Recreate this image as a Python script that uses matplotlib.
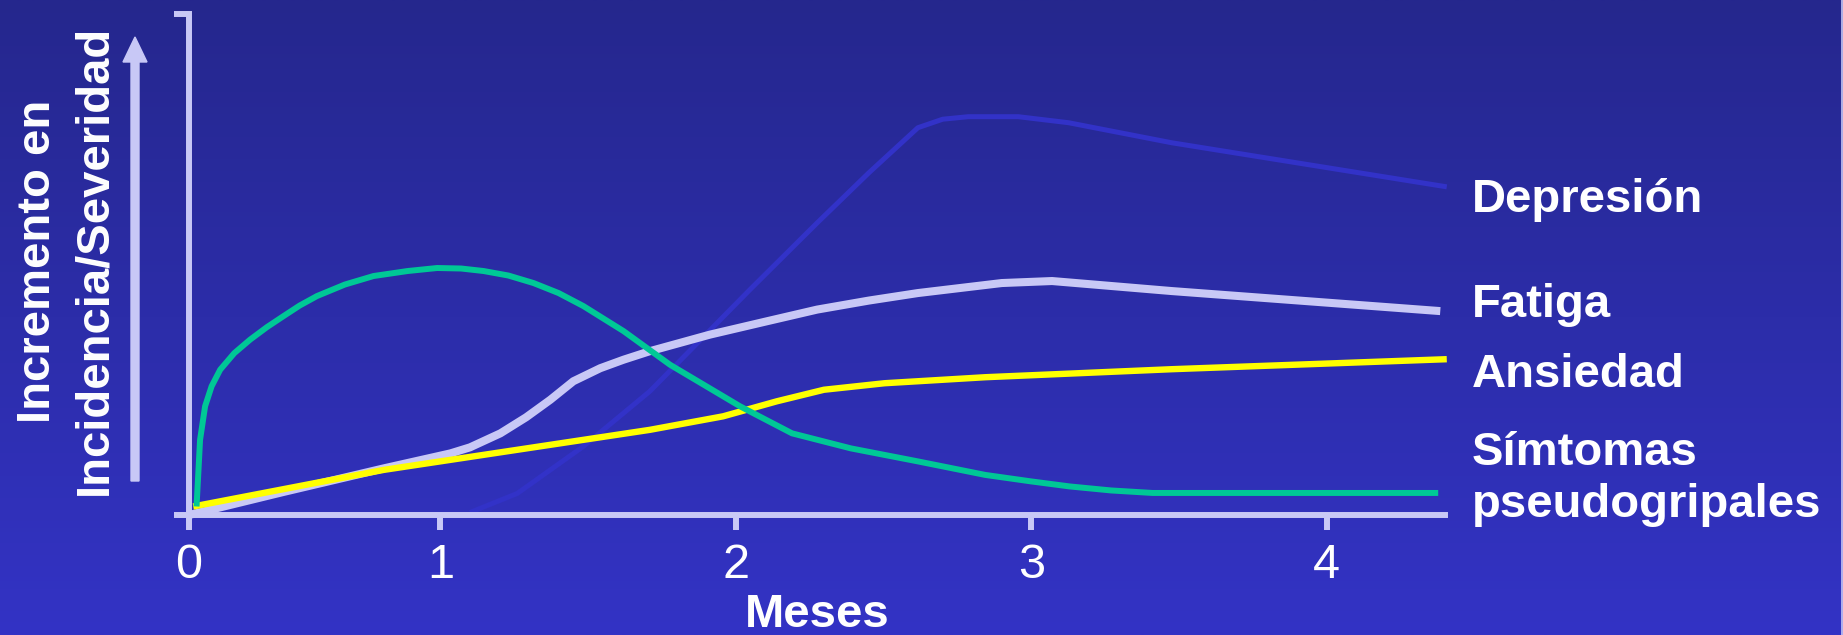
import numpy as np
import matplotlib
matplotlib.use("Agg")
import matplotlib.pyplot as plt
from matplotlib.patches import FancyArrow
from matplotlib.lines import Line2D

# ---- data (months vs. relative incidence/severity, 0-100) ----
gripe_x = [0.03, 0.037, 0.044, 0.064, 0.09, 0.124, 0.18, 0.243, 0.31, 0.376, 0.44, 0.509, 0.62,
           0.734, 0.87, 0.987, 1.07, 1.146, 1.23, 1.315, 1.40, 1.484, 1.62, 1.777, 2.014, 2.19,
           2.389, 2.616, 2.844, 3.0, 3.13, 3.27, 3.41, 4.377]
gripe_y = [1.7, 8.3, 15, 21.7, 25.7, 29, 32.3, 35, 37.5, 39.7, 41.8, 43.7, 46,
           47.7, 48.7, 49.3, 49.2, 48.7, 47.8, 46.3, 44.3, 41.7, 36.7, 30, 21.7, 16.3,
           13.3, 10.7, 8, 6.7, 5.7, 4.9, 4.4, 4.4]

fatiga_x = [0.0, 0.376, 0.774, 1.034, 1.1, 1.203, 1.29, 1.372, 1.45, 1.541, 1.62, 1.709, 1.912,
            2.1, 2.275, 2.45, 2.616, 2.90, 3.07, 3.475, 4.384]
fatiga_y = [0.0, 4.6, 9.3, 12.3, 13.5, 16.3, 19.5, 23, 26.7, 29.3, 31, 32.7, 36,
            38.6, 41, 42.8, 44.3, 46.3, 46.7, 44.7, 40.7]

ansiedad_x = [0.017, 0.774, 1.709, 1.957, 2.139, 2.298, 2.503, 2.844, 3.475, 4.406]
ansiedad_y = [1.7, 9, 17, 19.7, 22.7, 25, 26.3, 27.5, 29.1, 31.1]

depresion_x = [1.1, 1.26, 1.484, 1.709, 2.048, 2.275, 2.45, 2.616, 2.70, 2.786, 2.956, 3.126,
               3.475, 4.406]
depresion_y = [0.5, 4.3, 13.7, 24.7, 45, 58.3, 68.3, 77.3, 79.0, 79.5, 79.5, 78.3,
               74.3, 65.5]

x_ticks = [0, 1, 2, 3, 4]
x_tick_labels = ["0", "1", "2", "3", "4"]
series_labels = ["Depresión", "Fatiga", "Ansiedad", "Símtomas\npseudogripales"]

# ---- style ----
LAV = "#C8C8F6"
GREEN = "#00C896"
YELLOW = "#FFFF00"
DEEP = "#3232C8"
TOP_BG = np.array([37, 39, 141]) / 255
BOT_BG = np.array([51, 51, 197]) / 255
FONT = "Liberation Sans"

W, H, DPI = 1843, 635, 100
fig = plt.figure(figsize=(W / DPI, H / DPI), dpi=DPI)

# vertical gradient background
bg = fig.add_axes([0, 0, 1, 1], zorder=-10)
t = np.linspace(0, 1, 256)[:, None]
grad = TOP_BG[None, None, :] * (1 - t[..., None]) + BOT_BG[None, None, :] * t[..., None]
grad = np.repeat(grad, 2, axis=1)
bg.imshow(grad, aspect="auto", extent=[0, 1, 0, 1], interpolation="bilinear")
bg.set_xlim(0, 1)
bg.set_ylim(0, 1)
bg.axis("off")
# thin light edge on the right
bg.add_line(Line2D([0.9992, 0.9992], [0, 1], color=LAV, lw=1.2, transform=bg.transAxes))

# main axes in pixel-derived figure fractions
x0, x1, y0, y1 = 189, 1445, 515, 14
ax = fig.add_axes([x0 / W, (H - y0) / H, (x1 - x0) / W, (y0 - y1) / H])
ax.set_facecolor("none")

# first month is drawn slightly narrower than the others
A = 251 / 295


def fwd(x):
    x = np.asarray(x, float)
    return np.where(x < 1, x * A, A + (x - 1))


def inv(u):
    u = np.asarray(u, float)
    return np.where(u < A, u / A, u - A + 1)


ax.set_xscale("function", functions=(fwd, inv))
ax.set_xlim(0, 4.40)
ax.set_ylim(0, 100)

common = dict(solid_capstyle="butt", solid_joinstyle="round", clip_on=False)
ax.plot(depresion_x, depresion_y, color=DEEP, lw=3.6, zorder=2, **common)
ax.plot(ansiedad_x, ansiedad_y, color=YELLOW, lw=4.6, zorder=3, **common)
ax.plot(fatiga_x, fatiga_y, color=LAV, lw=5.8, zorder=2.5, **common)
ax.plot(gripe_x, gripe_y, color=GREEN, lw=4.3, zorder=4, **common)

for side in ("top", "right"):
    ax.spines[side].set_visible(False)
for side in ("left", "bottom"):
    ax.spines[side].set_color(LAV)
    ax.spines[side].set_linewidth(4.3)
    ax.spines[side].set_zorder(5)

ax.set_xticks(x_ticks)
ax.set_xticklabels(x_tick_labels, fontsize=35, color="white", fontfamily=FONT)
ax.xaxis.set_minor_locator(matplotlib.ticker.NullLocator())
ax.tick_params(axis="x", direction="out", length=10.8, width=4.3, color=LAV, pad=9)
ax.set_yticks([0, 100])
ax.set_yticklabels([])
ax.tick_params(axis="y", direction="out", length=10.8, width=4.3, color=LAV)

# axis titles
fig.text(817 / W, 8 / H, "Meses", fontsize=34, fontweight="bold", color="white",
         fontfamily=FONT, ha="center", va="baseline")
fig.text(38 / W, (H - 261) / H, "Incremento en", fontsize=34, fontweight="bold", color="white",
         fontfamily=FONT, ha="center", va="center", rotation=90)
fig.text(94 / W, (H - 260) / H, "Incidencia/Severidad", fontsize=34, fontweight="bold",
         color="white", fontfamily=FONT, ha="center", va="center", rotation=90)

# upward arrow beside the y axis
arrow = FancyArrow(1.35, (H - 481) / DPI, 0, (481 - 37) / DPI, width=0.08, head_width=0.24,
                   head_length=0.25, length_includes_head=True, color=LAV,
                   transform=fig.dpi_scale_trans)
fig.add_artist(arrow)

# series names at the right
label_baselines = [212, 317, 387, 465]
for name, yb in zip(series_labels, label_baselines):
    lines = name.split("\n")
    for i, ln in enumerate(lines):
        fig.text(1472 / W, (H - (yb + 52 * i)) / H, ln, fontsize=34, fontweight="bold",
                 color="white", fontfamily=FONT, ha="left", va="baseline")

fig.savefig("out.png", dpi=DPI)
